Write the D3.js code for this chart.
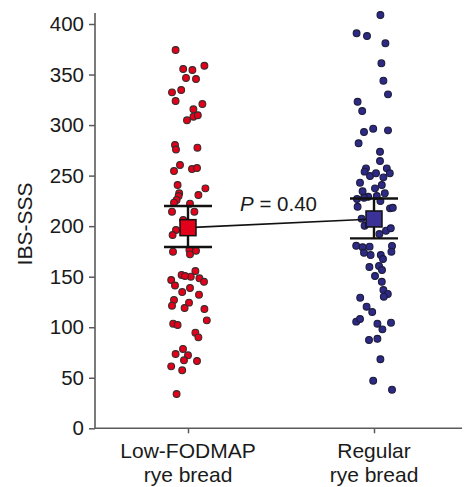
<!DOCTYPE html>
<html>
<head>
<meta charset="utf-8">
<script src="https://cdn.jsdelivr.net/npm/d3@7"></script>
<style>
  html, body { margin: 0; padding: 0; background: #fff; }
  svg { display: block; font-family: "Liberation Sans", Arial, sans-serif; }
</style>
</head>
<body>
<svg id="chart" width="464" height="487"></svg>
<script>
// ---------- data ----------
const categories = ["Low-FODMAP rye bread", "Regular rye bread"];
const categoryLines = [["Low-FODMAP", "rye bread"], ["Regular", "rye bread"]];
const yTicks = [0, 50, 100, 150, 200, 250, 300, 350, 400];
const yLabel = "IBS-SSS";
const pText = "0.40";

// Low-FODMAP individual values
const lowValues = [374.3,355.5,354.5,358.7,346.6,345.6,332.4,334.7,323.8,320.8,315.6,304.7,308.3,309.7,
  280.3,275.8,277.6,260.5,254.5,256.5,257.5,240.7,237.4,232.5,229.8,230.8,225.9,223.2,222.2,214.3,214.3,
  206.1,196.2,191.2,174.7,176.4,172.1,175.7,155.6,151.7,150.0,150.7,146.7,148.4,145.0,141.3,138.8,134.8,
  132.2,126.9,121.3,124.3,119.0,118.0,106.8,103.5,102.2,94.6,90.0,78.5,73.5,72.2,67.3,66.6,61.3,57.4,33.9];
// horizontal jitter (fraction of half-spread)
const lowJitter = [-0.62,-0.24,0.22,0.82,-0.10,0.40,-0.80,-0.34,-0.62,0.72,0.27,-0.05,0.27,0.49,
  -0.65,-0.60,0.47,-0.40,-0.70,0.20,0.45,-0.52,0.87,-0.44,-0.47,0.52,-0.57,-0.70,0.10,-0.80,0.32,
  -0.24,-0.60,-0.77,-0.75,0.07,0.10,0.40,0.37,-0.32,0.14,-0.15,-0.84,0.57,0.80,-0.65,0.10,-0.29,
  0.55,-0.70,-0.80,0.05,-0.17,0.82,0.94,-0.74,-0.52,0.37,0.52,-0.25,-0.62,0,-0.20,0.45,-0.84,-0.29,-0.57];

// Regular individual values
const regValues = [408.9,390.8,388.1,380.9,361.1,343.9,330.4,323.1,313.9,293.1,296.4,294.8,282.0,273.6,
  264.4,257.2,257.2,253.9,249.6,252.3,248.3,252.3,243.0,240.7,237.4,234.5,232.5,229.8,229.1,226.8,228.1,
  224.9,219.2,217.6,218.2,207.4,200.4,195.5,197.9,192.2,180.6,179.1,179.7,180.4,173.7,171.4,171.4,174.7,
  167.5,159.6,160.6,156.6,150.7,145.0,136.8,132.9,130.2,129.2,120.3,115.1,105.5,108.1,103.5,104.5,97.9,
  87.4,88.6,68.3,47.1,38.2];
const regJitter = [0.32,-0.87,-0.35,0.57,0.37,0.47,0.70,-0.82,-0.59,-0.50,-0.04,0.70,-0.77,0.30,
  0.30,-0.40,0.64,-0.47,-0.20,0.10,0.47,0.79,-0.70,0.39,0.05,-0.57,0.54,0.14,-0.29,-0.85,-0.50,
  0.32,-0.82,0.80,0.94,-0.62,-0.47,0.60,0.84,0.27,-0.89,-0.57,-0.22,0.90,-0.50,-0.17,0.34,0.87,
  0.45,-0.23,0.25,0.40,0.05,0.39,0.47,0.69,0.49,-0.69,-0.37,-0.09,-0.89,-0.70,0.17,0.85,0.42,
  -0.25,0.17,0.32,-0.04,0.90];

// group summaries (mean with CI)
const means = [198.5, 207.1];
const upper = [220.0, 227.3];
const lower = [179.3, 187.9];

// ---------- styles ----------
const dotFill = ["#e3001b", "#2d2a85"];
const dotStroke = ["#3a2a2a", "#1c1b3a"];
const squareFill = ["#e3001b", "#3a3296"];

// ---------- layout ----------
const svg = d3.select("#chart");
const axisLeftX = 95, axisBottomY = 428.3, axisTopY = 13, axisRightX = 462;

const y = d3.scaleLinear().domain([0, 400]).range([axisBottomY, 24]);
const x = d3.scalePoint().domain(categories).range([188, 374]);
const jit = d3.scaleLinear().domain([-1, 1]).range([-20, 20]);

const axisColor = "#5a5a5a";

// y axis
const yAxisG = svg.append("g")
  .attr("transform", `translate(${axisLeftX},0)`)
  .call(d3.axisLeft(y).tickValues(yTicks).tickSize(6).tickPadding(5).tickFormat(d3.format("d")));
yAxisG.select(".domain").remove();
yAxisG.selectAll(".tick line").attr("stroke", axisColor).attr("stroke-width", 1.5);
yAxisG.selectAll(".tick text").attr("font-size", 20.5).attr("fill", "#1a1a1a")
  .attr("font-family", "Liberation Sans, Arial, sans-serif");
svg.append("line")
  .attr("x1", axisLeftX).attr("x2", axisLeftX)
  .attr("y1", axisTopY).attr("y2", axisBottomY)
  .attr("stroke", axisColor).attr("stroke-width", 1.6);

// x axis
const xAxisG = svg.append("g")
  .attr("transform", `translate(0,${axisBottomY})`)
  .call(d3.axisBottom(x).tickSize(5).tickFormat(""));
xAxisG.select(".domain").remove();
xAxisG.selectAll(".tick line").attr("stroke", axisColor).attr("stroke-width", 1.5);
svg.append("line")
  .attr("x1", axisLeftX).attr("x2", axisRightX)
  .attr("y1", axisBottomY).attr("y2", axisBottomY)
  .attr("stroke", axisColor).attr("stroke-width", 1.6);

// category labels
categories.forEach((c, i) => {
  const t = svg.append("text")
    .attr("x", x(c)).attr("y", 458)
    .attr("text-anchor", "middle")
    .attr("font-size", 21).attr("fill", "#1a1a1a");
  categoryLines[i].forEach((line, k) => {
    t.append("tspan").attr("x", x(c)).attr("dy", k === 0 ? 0 : 23.5).text(line);
  });
});

// y label
svg.append("text")
  .attr("transform", `translate(32,224) rotate(-90)`)
  .attr("text-anchor", "middle")
  .attr("font-size", 21).attr("fill", "#1a1a1a")
  .text(yLabel);

// dots
const groups = [
  { vals: lowValues, jit: lowJitter },
  { vals: regValues, jit: regJitter }
];
groups.forEach((g, i) => {
  svg.append("g").selectAll("circle")
    .data(g.vals.map((v, k) => ({ v, j: g.jit[k] })))
    .join("circle")
    .attr("cx", d => x(categories[i]) + jit(d.j))
    .attr("cy", d => y(d.v))
    .attr("r", 3.4)
    .attr("fill", dotFill[i])
    .attr("stroke", dotStroke[i])
    .attr("stroke-width", 1.1);
});

// connecting line between means
svg.append("line")
  .attr("x1", x(categories[0])).attr("y1", y(means[0]))
  .attr("x2", x(categories[1])).attr("y2", y(means[1]))
  .attr("stroke", "#111").attr("stroke-width", 1.6);

// error bars
categories.forEach((c, i) => {
  const cx = x(c);
  const g = svg.append("g").attr("stroke", "#111").attr("stroke-width", 2.4);
  g.append("line").attr("x1", cx).attr("x2", cx).attr("y1", y(lower[i])).attr("y2", y(upper[i]));
  g.append("line").attr("x1", cx - 24).attr("x2", cx + 24).attr("y1", y(upper[i])).attr("y2", y(upper[i]));
  g.append("line").attr("x1", cx - 24).attr("x2", cx + 24).attr("y1", y(lower[i])).attr("y2", y(lower[i]));
  svg.append("rect")
    .attr("x", cx - 8).attr("y", y(means[i]) - 8)
    .attr("width", 16).attr("height", 16)
    .attr("fill", squareFill[i]).attr("stroke", "#111").attr("stroke-width", 1.5);
});

// P value label
const pt = svg.append("text").attr("x", 240).attr("y", 211)
  .attr("font-size", 20.5).attr("fill", "#1a1a1a");
pt.append("tspan").attr("font-style", "italic").text("P");
pt.append("tspan").text(" = " + pText);
</script>
</body>
</html>
